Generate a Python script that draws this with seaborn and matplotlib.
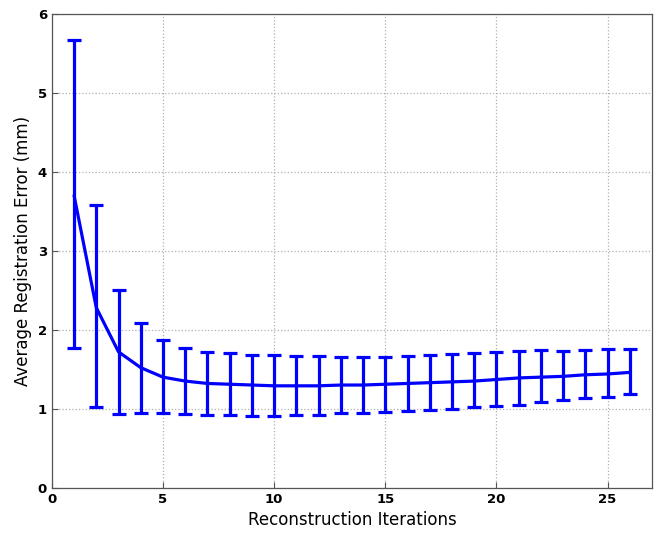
import numpy as np
import pandas as pd
import seaborn as sns
import matplotlib.pyplot as plt

iterations = list(range(1, 27))
mean_err = [3.70, 2.28, 1.72, 1.52, 1.40, 1.35, 1.32, 1.31, 1.30, 1.29, 1.29, 1.29, 1.30,
            1.30, 1.31, 1.32, 1.33, 1.34, 1.35, 1.37, 1.39, 1.40, 1.41, 1.43, 1.44, 1.46]
upper = [5.67, 3.58, 2.50, 2.09, 1.87, 1.77, 1.72, 1.70, 1.68, 1.68, 1.67, 1.67, 1.66,
         1.66, 1.66, 1.67, 1.68, 1.69, 1.70, 1.72, 1.73, 1.74, 1.73, 1.74, 1.75, 1.76]
lower = [1.77, 1.02, 0.93, 0.95, 0.94, 0.93, 0.92, 0.92, 0.91, 0.91, 0.92, 0.92, 0.94,
         0.95, 0.96, 0.97, 0.99, 1.00, 1.02, 1.03, 1.05, 1.08, 1.11, 1.13, 1.15, 1.19]

df = pd.DataFrame({"Iteration": iterations, "Error": mean_err,
                   "Upper": upper, "Lower": lower})

sns.set_style("ticks")
plt.rcParams["font.family"] = ["DejaVu Sans"]
plt.rcParams["text.color"] = "black"
plt.rcParams["axes.labelcolor"] = "black"

fig, ax = plt.subplots(figsize=(6.56, 5.33), dpi=100)
fig.subplots_adjust(left=0.079, right=0.994, top=0.974, bottom=0.085)

sns.lineplot(data=df, x="Iteration", y="Error", color="blue", linewidth=2.3, ax=ax)
ax.errorbar(df["Iteration"], df["Error"],
            yerr=[df["Error"] - df["Lower"], df["Upper"] - df["Error"]],
            fmt="none", ecolor="blue", elinewidth=2.3, capsize=4.8, capthick=2.3)

ax.set_xlim(0, 27)
ax.set_ylim(0, 6)
ax.set_xticks([0, 5, 10, 15, 20, 25])
ax.set_yticks([0, 1, 2, 3, 4, 5, 6])
ax.grid(True, linestyle=":", color="#b0b0b0", linewidth=0.9)
ax.tick_params(direction="in", length=4, color="#555555", labelcolor="black", labelsize=9.5)
for lbl in ax.get_xticklabels() + ax.get_yticklabels():
    lbl.set_fontweight("bold")
for s in ax.spines.values():
    s.set_color("#555555")
    s.set_linewidth(0.9)

ax.set_xlabel("Reconstruction Iterations", fontsize=12)
ax.set_ylabel("Average Registration Error (mm)", fontsize=12)

fig.savefig("out.png", dpi=100)
